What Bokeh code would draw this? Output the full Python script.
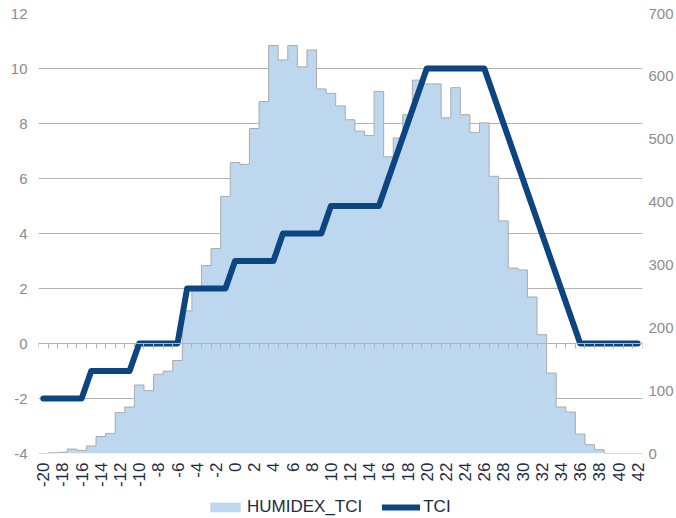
import numpy as np
from bokeh.plotting import figure
from bokeh.layouts import column
from bokeh.models import Range1d, LinearAxis, FixedTicker, Legend, LegendItem
from bokeh.embed import file_html
from bokeh.resources import INLINE

# ---- data ----
temps = list(range(-20, 43))
humidex_tci = [0, 1, 2, 7, 5, 12, 27, 32, 65, 74,
               109, 100, 126, 131, 148, 227, 265, 299, 326, 409,
               463, 460, 517, 560, 649, 626, 649, 615, 642, 580,
               573, 553, 531, 513, 506, 576, 472, 502, 539, 594,
               588, 588, 534, 582, 539, 511, 526, 441, 370, 295,
               292, 249, 189, 128, 74, 66, 31, 14, 6, 0,
               0, 0, 0]
tci = [-2, -2, -2, -2, -2, -1, -1, -1, -1, -1,
       0, 0, 0, 0, 0, 2, 2, 2, 2, 2,
       3, 3, 3, 3, 3, 4, 4, 4, 4, 4,
       5, 5, 5, 5, 5, 5, 6, 7, 8, 9,
       10, 10, 10, 10, 10, 10, 10, 9, 8, 7,
       6, 5, 4, 3, 2, 1, 0, 0, 0, 0,
       0, 0, 0]
x_label_ticks = list(range(-20, 43, 2))
left_ticks = list(range(-4, 13, 2))
right_ticks = list(range(0, 701, 100))
series_names = ["HUMIDEX_TCI", "TCI"]

FONT = "Liberation Sans"
LABEL_GRAY = "#8c8c8c"
DARK_TEXT = "#1f2a44"
GRID = "#b3b3b3"
AREA_FILL = "#bdd7ee"
LINE_BLUE = "#0c4580"

p = figure(width=676, height=496,
           x_range=Range1d(temps[0] - 0.5, temps[-1] + 0.5),
           y_range=Range1d(left_ticks[0], left_ticks[-1]),
           output_backend="svg", toolbar_location=None,
           min_border_left=38, min_border_right=33,
           min_border_top=13, min_border_bottom=43)
p.outline_line_color = None
p.background_fill_color = "white"
p.extra_y_ranges = {"right": Range1d(right_ticks[0], right_ticks[-1])}

# histogram envelope (secondary axis), one bin per temperature
ex, ey = [], []
for t, v in zip(temps, humidex_tci):
    ex += [t - 0.5, t + 0.5]
    ey += [v, v]
p.varea(x=ex, y1=[0] * len(ex), y2=ey, y_range_name="right", fill_color=AREA_FILL)
p.line(ex, ey, y_range_name="right", line_color="#ababab", line_width=1)

# TCI line (primary axis)
p.line(temps, tci, line_color=LINE_BLUE, line_width=6,
       line_cap="round", line_join="round")

# bottom label axis
p.xaxis.ticker = FixedTicker(ticks=x_label_ticks)
p.xaxis.major_label_overrides = {t: str(t) for t in x_label_ticks}
p.xaxis.major_label_orientation = np.pi / 2
p.xaxis.axis_line_color = None
p.xaxis.major_tick_line_color = None
p.xaxis.minor_tick_line_color = None
p.xaxis.major_tick_out = 0
p.xaxis.major_label_standoff = 9
p.xaxis.major_label_text_font = FONT
p.xaxis.major_label_text_font_size = "17px"
p.xaxis.major_label_text_color = DARK_TEXT

# category axis line with ticks at y = 0 (ticks point downward)
tick_marks = [t - 0.5 for t in temps] + [temps[-1] + 0.5]
zero_axis = LinearAxis(fixed_location=0, ticker=FixedTicker(ticks=tick_marks),
                       axis_line_color=GRID, major_tick_line_color=GRID,
                       major_tick_out=5, major_tick_in=0,
                       minor_tick_line_color=None,
                       major_label_standoff=0,
                       major_label_text_color=None,
                       major_label_text_font_size="1px")
p.add_layout(zero_axis, "below")

# left axis
p.yaxis.ticker = FixedTicker(ticks=left_ticks)
p.yaxis.major_label_overrides = {t: str(t) for t in left_ticks}
p.yaxis.axis_line_color = None
p.yaxis.major_tick_line_color = None
p.yaxis.minor_tick_line_color = None
p.yaxis.major_tick_out = 0
p.yaxis.major_label_standoff = 11
p.yaxis.major_label_text_font = FONT
p.yaxis.major_label_text_font_size = "15px"
p.yaxis.major_label_text_color = LABEL_GRAY

# right axis
raxis = LinearAxis(y_range_name="right", ticker=FixedTicker(ticks=right_ticks),
                   axis_line_color=None, major_tick_line_color=None,
                   minor_tick_line_color=None, major_tick_out=0,
                   major_label_standoff=6, major_label_text_font=FONT,
                   major_label_text_font_size="15px",
                   major_label_text_color=LABEL_GRAY)
p.add_layout(raxis, "right")

p.xgrid.visible = False
p.ygrid.ticker = FixedTicker(ticks=left_ticks)
p.ygrid.grid_line_color = GRID
p.ygrid.grid_line_width = 1

# ---- legend strip (separate small figure below the chart) ----
lg = figure(width=676, height=22, x_range=Range1d(0, 1), y_range=Range1d(0, 1),
            output_backend="svg", toolbar_location=None,
            x_axis_type=None, y_axis_type=None,
            min_border_left=0, min_border_right=0, min_border_top=0, min_border_bottom=0)
lg.outline_line_color = None
lg.grid.visible = False
nan = float("nan")
r_area = lg.quad(left=[nan], right=[nan], top=[nan], bottom=[nan],
                 fill_color=AREA_FILL, line_color=None)
r_line = lg.line(x=[nan], y=[nan], line_color=LINE_BLUE, line_width=6,
                 line_cap="round", line_join="round")
legend = Legend(items=[LegendItem(label=series_names[0], renderers=[r_area]),
                       LegendItem(label=series_names[1], renderers=[r_line])],
                location=(168, 1), orientation="horizontal",
                border_line_color=None, background_fill_alpha=0,
                label_text_font=FONT, label_text_font_size="17px",
                label_text_color=DARK_TEXT, glyph_width=38, glyph_height=12,
                label_standoff=3, spacing=20, padding=0, margin=0)
lg.add_layout(legend, "center")

layout = column(p, lg, spacing=0)
open("out.html", "w").write(file_html(layout, INLINE))
